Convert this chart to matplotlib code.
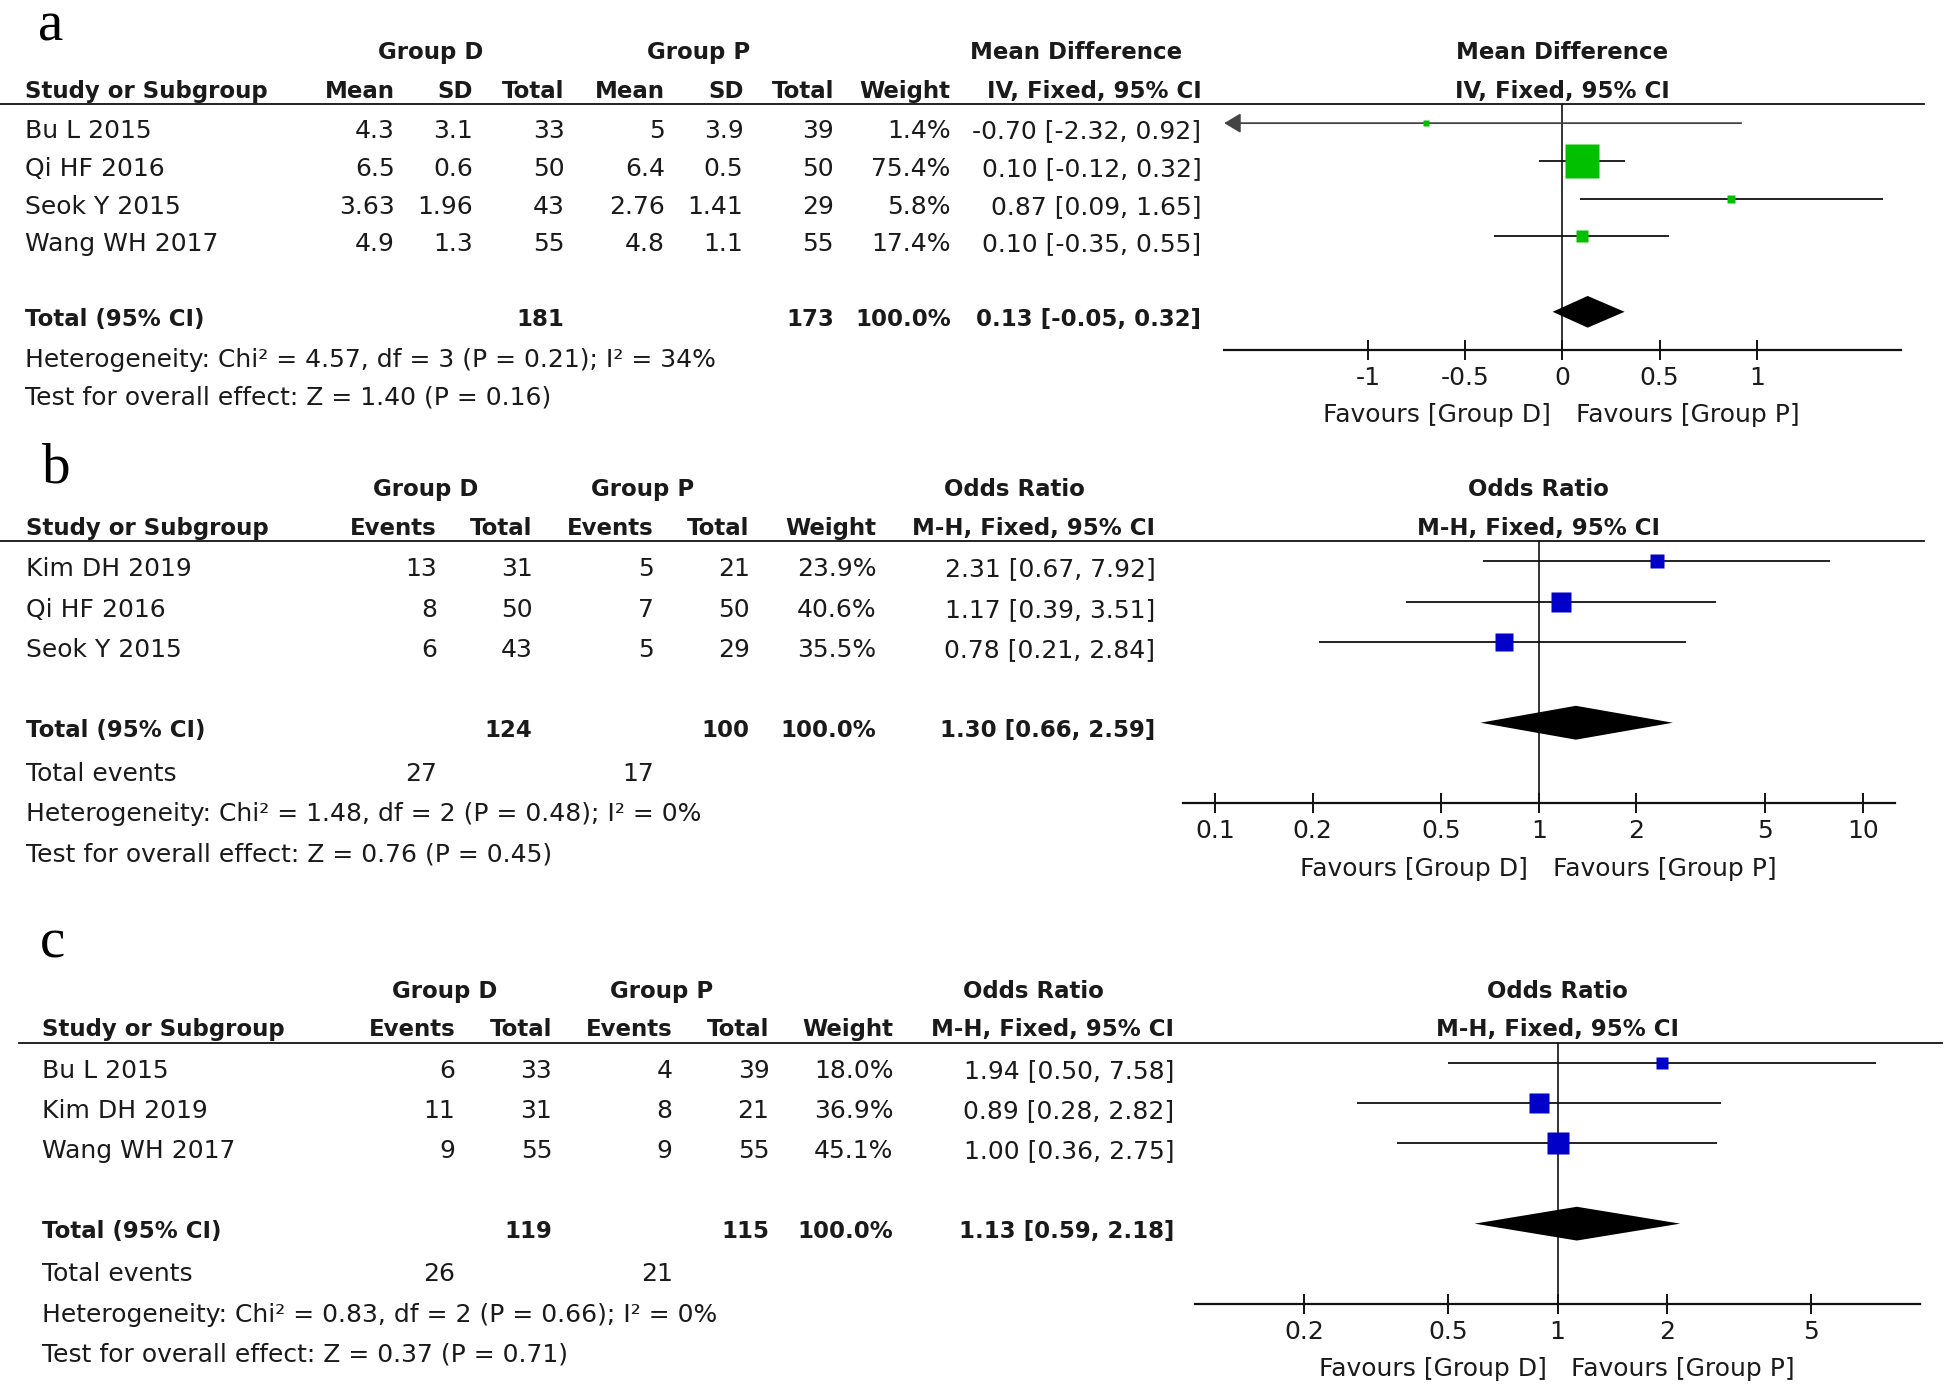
import numpy as np
import matplotlib
matplotlib.use("Agg")
import matplotlib.pyplot as plt
from matplotlib import transforms
from matplotlib.ticker import NullLocator

plt.rcParams['font.family'] = ['DejaVu Sans']
plt.rcParams['axes.unicode_minus'] = False

# ---------------- datos panel a (mean difference) ----------------
a_studies = ["Bu L 2015", "Qi HF 2016", "Seok Y 2015", "Wang WH 2017"]
a_d_mean = [4.3, 6.5, 3.63, 4.9]
a_d_sd = [3.1, 0.6, 1.96, 1.3]
a_d_n = [33, 50, 43, 55]
a_p_mean = [5, 6.4, 2.76, 4.8]
a_p_sd = [3.9, 0.5, 1.41, 1.1]
a_p_n = [39, 50, 29, 55]
a_weight = [1.4, 75.4, 5.8, 17.4]
a_est = [-0.70, 0.10, 0.87, 0.10]
a_lo = [-2.32, -0.12, 0.09, -0.35]
a_hi = [0.92, 0.32, 1.65, 0.55]
a_pooled = [0.13, -0.05, 0.32]
a_het = [4.57, 3, 0.21, 34]      # Chi2, df, P, I2
a_z = [1.40, 0.16]               # Z, P
a_ticks = [-1, -0.5, 0, 0.5, 1]
a_ticklabels = ["-1", "-0.5", "0", "0.5", "1"]

# ---------------- datos panel b (odds ratio) ----------------
b_studies = ["Kim DH 2019", "Qi HF 2016", "Seok Y 2015"]
b_d_ev = [13, 8, 6]
b_d_n = [31, 50, 43]
b_p_ev = [5, 7, 5]
b_p_n = [21, 50, 29]
b_weight = [23.9, 40.6, 35.5]
b_est = [2.31, 1.17, 0.78]
b_lo = [0.67, 0.39, 0.21]
b_hi = [7.92, 3.51, 2.84]
b_pooled = [1.30, 0.66, 2.59]
b_het = [1.48, 2, 0.48, 0]
b_z = [0.76, 0.45]
b_ticks = [0.1, 0.2, 0.5, 1, 2, 5, 10]
b_ticklabels = ["0.1", "0.2", "0.5", "1", "2", "5", "10"]

# ---------------- datos panel c (odds ratio) ----------------
c_studies = ["Bu L 2015", "Kim DH 2019", "Wang WH 2017"]
c_d_ev = [6, 11, 9]
c_d_n = [33, 31, 55]
c_p_ev = [4, 8, 9]
c_p_n = [39, 21, 55]
c_weight = [18.0, 36.9, 45.1]
c_est = [1.94, 0.89, 1.00]
c_lo = [0.50, 0.28, 0.36]
c_hi = [7.58, 2.82, 2.75]
c_pooled = [1.13, 0.59, 2.18]
c_het = [0.83, 2, 0.66, 0]
c_z = [0.37, 0.71]
c_ticks = [0.2, 0.5, 1, 2, 5]
c_ticklabels = ["0.2", "0.5", "1", "2", "5"]

# ---------------- figura ----------------
W, H = 1568, 1119          # rejilla de maquetacion
fig = plt.figure(figsize=(19.46, 13.89), dpi=100)
bg = fig.add_axes([0, 0, 1, 1])
bg.set_xlim(0, W)
bg.set_ylim(H, 0)
bg.axis('off')

TXT = '#1a1a1a'
LINE = '#111111'
FS = 18      # texto normal
FSB = 16.5   # texto en negrita


def txt(x, y, s, ha='left', bold=False, **kw):
    bg.text(x, y, s, ha=ha, va='center', color=TXT,
            fontsize=FSB if bold else FS,
            fontweight='bold' if bold else 'normal', **kw)


def fmt_ci(e, l, h):
    return f"{e:.2f} [{l:.2f}, {h:.2f}]"


def table(y_line, sp, left, cols, header, rows, total, events=None, stats=()):
    txt(left, y_line - 10.5, header[0], bold=True)
    for x, s in zip(cols, header[1:]):
        txt(x, y_line - 10.5, s, ha='right', bold=True)
    for i, row in enumerate(rows):
        y = y_line + (i + 0.5) * sp + 6.5
        txt(left, y, row[0])
        for x, s in zip(cols, row[1:]):
            txt(x, y, s, ha='right')
    y_tot = y_line + (len(rows) + 1.5) * sp + 6.5
    txt(left, y_tot, total[0], bold=True)
    for x, s in zip(cols, total[1:]):
        txt(x, y_tot, s, ha='right', bold=True)
    k = 0
    if events is not None:
        y = y_tot + sp + 2
        txt(left, y, events[0])
        for x, s in zip(cols, events[1:]):
            txt(x, y, s, ha='right')
        k = 1
    for j, s in enumerate(stats):
        txt(left, y_tot + (j + k + 1) * sp + 2, s)


def forest(y_line, sp, null_px, ppu, xlim, log, est, lo, hi, weight, pooled,
           color, ticks, ticklabels, title, subtitle):
    f = np.log10 if log else (lambda v: v)
    null = 1 if log else 0
    x0 = null_px + f(xlim[0]) * ppu
    x1 = null_px + f(xlim[1]) * ppu
    y_axis = y_line + 6.5 * sp
    ax = fig.add_axes([x0 / W, 1 - y_axis / H, (x1 - x0) / W, (y_axis - y_line) / H])
    if log:
        ax.set_xscale('log')
    ax.set_xlim(*xlim)
    ax.set_ylim(6, -0.5)
    ax.patch.set_alpha(0)
    for s in ['left', 'top', 'right']:
        ax.spines[s].set_visible(False)
    ax.spines['bottom'].set_color(LINE)
    ax.spines['bottom'].set_linewidth(1.6)
    ax.set_yticks([])
    ax.set_xticks(ticks)
    ax.set_xticklabels(ticklabels)
    ax.xaxis.set_minor_locator(NullLocator())
    ax.tick_params(axis='x', direction='inout', length=15, width=1.4,
                   color=LINE, labelsize=FS, labelcolor=TXT, pad=4)

    ax.axvline(null, color=LINE, lw=1.2, zorder=1)
    for i in range(len(est)):
        if lo[i] < xlim[0]:
            ax.annotate('', xy=(xlim[0], i), xytext=(hi[i], i),
                        arrowprops=dict(arrowstyle='-|>,head_length=0.5,head_width=0.3',
                                        color='#444444', lw=1.3, shrinkA=0, shrinkB=0,
                                        mutation_scale=20))
        else:
            ax.plot([lo[i], hi[i]], [i, i], color=LINE, lw=1.3,
                    solid_capstyle='butt', zorder=2)
        side = (5.6 + 0.376 * weight[i]) * 0.72
        ax.plot(est[i], i, marker='s', ms=side, color=color, mec='none', zorder=4)

    k = len(est) + 1
    ax.fill([pooled[1], pooled[0], pooled[2], pooled[0]],
            [k, k - 0.42, k, k + 0.42], color='black', lw=0, zorder=4)

    ax.annotate("Favours [Group D]", xy=(null, 0), xycoords=('data', 'axes fraction'),
                xytext=(-8, -47), textcoords='offset points', ha='right', va='center',
                fontsize=FS, color=TXT)
    ax.annotate("Favours [Group P]", xy=(null, 0), xycoords=('data', 'axes fraction'),
                xytext=(10, -47), textcoords='offset points', ha='left', va='center',
                fontsize=FS, color=TXT)

    trans = transforms.blended_transform_factory(ax.transData, bg.transData)
    bg.text(null, y_line - 41.5, title, transform=trans, ha='center', va='center',
            fontsize=FSB, fontweight='bold', color=TXT)
    bg.text(null, y_line - 10.5, subtitle, transform=trans, ha='center', va='center',
            fontsize=FSB, fontweight='bold', color=TXT)
    return ax


def panel_label(x, y, s, va='baseline'):
    bg.text(x, y, s, fontsize=41, family='Liberation Serif', ha='left', va=va,
            color='black')


# ================= panel a =================
ya, spa = 84, 30.4
panel_label(31, 0.5, "a", va='top')
bg.plot([0, 1550], [ya, ya], color=LINE, lw=1.3)
cols_a = [318, 381, 455, 536, 599, 672, 766, 968]
txt(347, ya - 41.5, "Group D", ha='center', bold=True)
txt(563, ya - 41.5, "Group P", ha='center', bold=True)
txt(867, ya - 41.5, "Mean Difference", ha='center', bold=True)
rows_a = []
for i in range(len(a_studies)):
    rows_a.append([a_studies[i], f"{a_d_mean[i]:g}", f"{a_d_sd[i]:g}", str(a_d_n[i]),
                   f"{a_p_mean[i]:g}", f"{a_p_sd[i]:g}", str(a_p_n[i]),
                   f"{a_weight[i]:.1f}%", fmt_ci(a_est[i], a_lo[i], a_hi[i])])
total_a = ["Total (95% CI)", "", "", str(sum(a_d_n)), "", "", str(sum(a_p_n)),
           f"{sum(a_weight):.1f}%", fmt_ci(*a_pooled)]
table(ya, spa, 20, cols_a,
      ["Study or Subgroup", "Mean", "SD", "Total", "Mean", "SD", "Total", "Weight",
       "IV, Fixed, 95% CI"],
      rows_a, total_a,
      stats=[f"Heterogeneity: Chi² = {a_het[0]:.2f}, df = {a_het[1]} (P = {a_het[2]:.2f}); I² = {a_het[3]}%",
             f"Test for overall effect: Z = {a_z[0]:.2f} (P = {a_z[1]:.2f})"])
forest(ya, spa, 1258.9, 156.6, (-1.74, 1.74), False, a_est, a_lo, a_hi, a_weight,
       a_pooled, '#00c000', a_ticks, a_ticklabels, "Mean Difference", "IV, Fixed, 95% CI")

# ================= panel b =================
yb, spb = 436, 32.5
panel_label(34, 389, "b")
bg.plot([0, 1550], [yb, yb], color=LINE, lw=1.3)
cols_b = [352, 429, 527, 604, 706, 931]
txt(343, yb - 41.5, "Group D", ha='center', bold=True)
txt(518, yb - 41.5, "Group P", ha='center', bold=True)
txt(817, yb - 41.5, "Odds Ratio", ha='center', bold=True)
rows_b = []
for i in range(len(b_studies)):
    rows_b.append([b_studies[i], str(b_d_ev[i]), str(b_d_n[i]), str(b_p_ev[i]),
                   str(b_p_n[i]), f"{b_weight[i]:.1f}%", fmt_ci(b_est[i], b_lo[i], b_hi[i])])
table(yb, spb, 21, cols_b,
      ["Study or Subgroup", "Events", "Total", "Events", "Total", "Weight", "M-H, Fixed, 95% CI"],
      rows_b,
      ["Total (95% CI)", "", str(sum(b_d_n)), "", str(sum(b_p_n)), f"{sum(b_weight):.1f}%",
       fmt_ci(*b_pooled)],
      events=["Total events", str(sum(b_d_ev)), "", str(sum(b_p_ev))],
      stats=[f"Heterogeneity: Chi² = {b_het[0]:.2f}, df = {b_het[1]} (P = {b_het[2]:.2f}); I² = {b_het[3]}%",
             f"Test for overall effect: Z = {b_z[0]:.2f} (P = {b_z[1]:.2f})"])
forest(yb, spb, 1240, 261, (10 ** -1.1, 10 ** 1.1), True, b_est, b_lo, b_hi, b_weight,
       b_pooled, '#0000c8', b_ticks, b_ticklabels, "Odds Ratio", "M-H, Fixed, 95% CI")

# ================= panel c =================
yc, spc = 840, 32.4
panel_label(32, 771, "c")
bg.plot([15, 1565], [yc, yc], color=LINE, lw=1.3)
cols_c = [367, 445, 542, 620, 720, 946]
txt(358, yc - 41.5, "Group D", ha='center', bold=True)
txt(533, yc - 41.5, "Group P", ha='center', bold=True)
txt(833, yc - 41.5, "Odds Ratio", ha='center', bold=True)
rows_c = []
for i in range(len(c_studies)):
    rows_c.append([c_studies[i], str(c_d_ev[i]), str(c_d_n[i]), str(c_p_ev[i]),
                   str(c_p_n[i]), f"{c_weight[i]:.1f}%", fmt_ci(c_est[i], c_lo[i], c_hi[i])])
table(yc, spc, 34, cols_c,
      ["Study or Subgroup", "Events", "Total", "Events", "Total", "Weight", "M-H, Fixed, 95% CI"],
      rows_c,
      ["Total (95% CI)", "", str(sum(c_d_n)), "", str(sum(c_p_n)), f"{sum(c_weight):.1f}%",
       fmt_ci(*c_pooled)],
      events=["Total events", str(sum(c_d_ev)), "", str(sum(c_p_ev))],
      stats=[f"Heterogeneity: Chi² = {c_het[0]:.2f}, df = {c_het[1]} (P = {c_het[2]:.2f}); I² = {c_het[3]}%",
             f"Test for overall effect: Z = {c_z[0]:.2f} (P = {c_z[1]:.2f})"])
forest(yc, spc, 1255, 292, (0.1, 10), True, c_est, c_lo, c_hi, c_weight,
       c_pooled, '#0000c8', c_ticks, c_ticklabels, "Odds Ratio", "M-H, Fixed, 95% CI")

fig.savefig("out.png", dpi=100)
